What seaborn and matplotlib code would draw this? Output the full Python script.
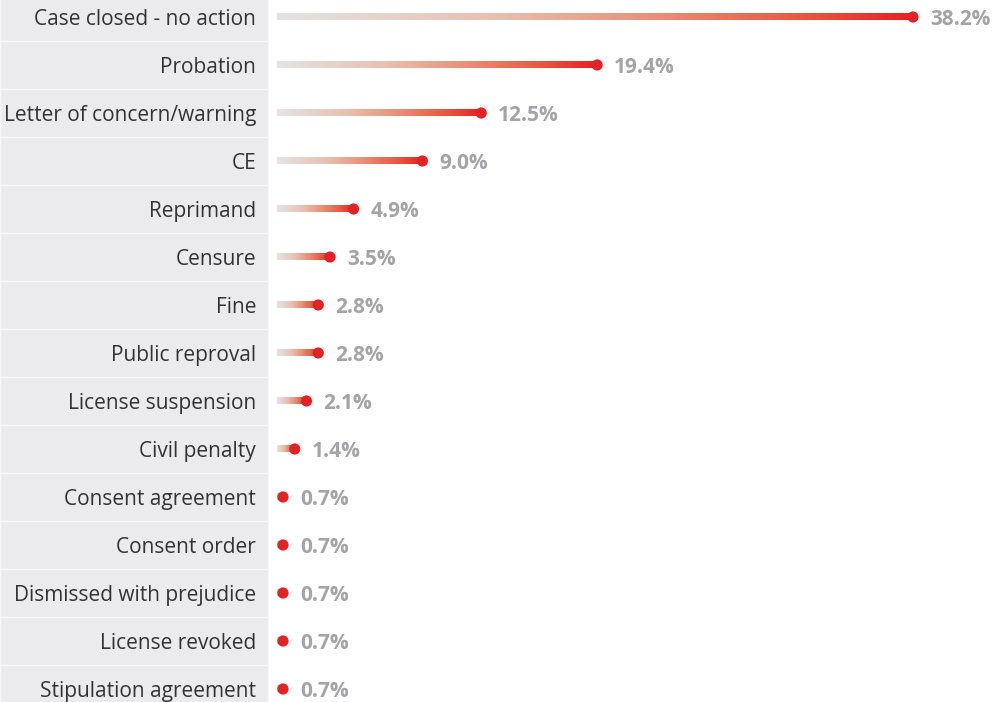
import matplotlib
matplotlib.use('Agg')
import matplotlib.pyplot as plt
from matplotlib.colors import LinearSegmentedColormap
import numpy as np
import pandas as pd
import seaborn as sns

# Data

categories = ['Case closed - no action', 'Probation', 'Letter of concern/warning',
              'CE', 'Reprimand', 'Censure', 'Fine', 'Public reproval',
              'License suspension', 'Civil penalty', 'Consent agreement',
              'Consent order', 'Dismissed with prejudice', 'License revoked',
              'Stipulation agreement']
shares = [38.2, 19.4, 12.5, 9.0, 4.9, 3.5, 2.8, 2.8, 2.1, 1.4,
          0.7, 0.7, 0.7, 0.7, 0.7]
share_labels = ['{:.1f}%'.format(v) for v in shares]

df = pd.DataFrame({'category': categories, 'share': shares,
                   'row': np.arange(len(categories))})

sns.set_theme(style='white')
plt.rcParams['font.family'] = ['Open Sans', 'DejaVu Sans']

grad = LinearSegmentedColormap.from_list(
    'fade', [(0, '#e4e4e4'), (0.35, '#e8bfae'), (0.6, '#e88f76'),
             (0.85, '#e5533d'), (1, '#e32227')])

fig = plt.figure(figsize=(10, 7.02), dpi=100)
ax = fig.add_axes([0, 0, 1, 1])

ppx = 16.8           # pixels per percent
zero_px = 271.2
ax.set_xlim(-zero_px / ppx, (1000 - zero_px) / ppx)
ax.set_ylim((702 - 17) / 48, -17 / 48)

# label panel with white separators
left = -zero_px / ppx
panel_w = 268 / ppx
for r in df['row']:
    ax.add_patch(plt.Rectangle((left, r - 0.5), panel_w, 1,
                               facecolor='#ebebed', edgecolor='#f7f7f8',
                               linewidth=1.0, zorder=1))

# gradient bars (start a few px right of the zero line, like the original)
h = 0.065
start = 6 / ppx
ramp = np.linspace(0, 1, 256).reshape(1, -1)
for r, v in zip(df['row'], df['share']):
    ax.imshow(ramp, cmap=grad, aspect='auto', extent=(start, v, r + h, r - h),
              interpolation='bicubic', zorder=2)

sns.scatterplot(data=df, x='share', y='row', ax=ax, color='#e32227',
                s=65, edgecolor='none', zorder=3, legend=False)

for r, v, lab, cat in zip(df['row'], df['share'], share_labels, df['category']):
    ax.text(v + 1.0, r, lab, va='center_baseline', ha='left', fontsize=15,
            fontweight='bold', color='#a3a3a8', zorder=4)
    ax.text((256 - zero_px) / ppx, r, cat, va='center_baseline', ha='right',
            fontsize=15, color='#333333', zorder=4)

ax.set_ylim((702 - 17) / 48, -17 / 48)
ax.set_axis_off()

plt.savefig('out.png', dpi=100)
plt.close()
